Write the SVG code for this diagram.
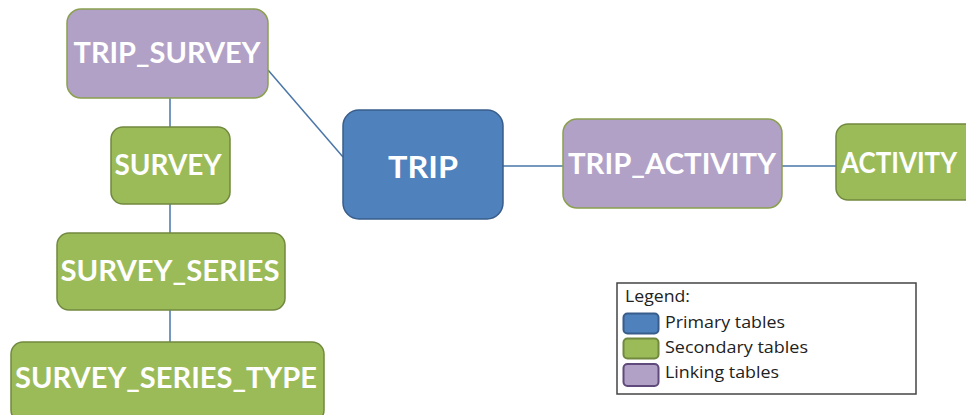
<svg xmlns="http://www.w3.org/2000/svg" width="966" height="415" viewBox="0 0 966 415">
<style>
.n text{font-family:Lato,"Liberation Sans",sans-serif;font-weight:bold;font-size:29px;fill:#fff;text-anchor:middle}
.g rect{fill:#9BBB59;stroke:#71893F;stroke-width:1.5}
.p rect{fill:#B2A1C7;stroke:#8AA04F;stroke-width:1.5}
.b rect{fill:#4F81BD;stroke:#385D8A;stroke-width:1.5}
#connectors line{stroke:#4A76A8;stroke-width:1.5}
.lg{font-family:"Open Sans","Liberation Sans",sans-serif;font-size:17px;fill:#222}
</style>
<rect width="966" height="415" fill="#fff"/>
<g id="connectors">
<line x1="268" y1="70" x2="343" y2="157"/>
<line x1="503" y1="166" x2="563" y2="166"/>
<line x1="782" y1="166" x2="836" y2="166"/>
<line x1="170" y1="98" x2="170" y2="127"/>
<line x1="170" y1="204" x2="170" y2="233"/>
<line x1="170" y1="310" x2="170" y2="342"/>
</g>
<g id="trip_survey" class="n p"><rect x="67" y="9" width="201" height="89" rx="14"/><text x="167" y="63" textLength="187" lengthAdjust="spacingAndGlyphs">TRIP_SURVEY</text></g>
<g id="survey" class="n g"><rect x="111" y="127" width="119" height="77" rx="12"/><text x="168" y="175" textLength="107" lengthAdjust="spacingAndGlyphs">SURVEY</text></g>
<g id="survey_series" class="n g"><rect x="57" y="233" width="228" height="77" rx="12"/><text x="170" y="281" textLength="219" lengthAdjust="spacingAndGlyphs">SURVEY_SERIES</text></g>
<g id="survey_series_type" class="n g"><rect x="11" y="342" width="313" height="80" rx="12"/><text x="166" y="388" textLength="302" lengthAdjust="spacingAndGlyphs">SURVEY_SERIES_TYPE</text></g>
<g id="trip" class="n b"><rect x="343" y="110" width="160" height="109" rx="16"/><text x="423" y="178" style="font-size:31px" textLength="70" lengthAdjust="spacingAndGlyphs">TRIP</text></g>
<g id="trip_activity" class="n p"><rect x="563" y="119" width="219" height="89" rx="14"/><text x="672" y="174" textLength="208" lengthAdjust="spacingAndGlyphs">TRIP_ACTIVITY</text></g>
<g id="activity" class="n g"><rect x="836" y="124" width="150" height="76" rx="12"/><text x="899" y="173" style="font-size:28px" textLength="116" lengthAdjust="spacingAndGlyphs">ACTIVITY</text></g>
<g id="legend">
<rect x="617" y="283" width="299" height="111" fill="#fff" stroke="#444" stroke-width="1.5"/>
<text class="lg" x="625" y="302" textLength="65" lengthAdjust="spacingAndGlyphs">Legend:</text>
<rect x="623.5" y="313.5" width="35" height="20" rx="4" fill="#4F81BD" stroke="#385D8A" stroke-width="2"/>
<rect x="623.5" y="338.5" width="35" height="20" rx="4" fill="#9BBB59" stroke="#71893F" stroke-width="2"/>
<rect x="623.5" y="364" width="35" height="22" rx="4" fill="#B2A1C7" stroke="#604A7B" stroke-width="2"/>
<text class="lg" x="665" y="328" textLength="120" lengthAdjust="spacingAndGlyphs">Primary tables</text>
<text class="lg" x="665" y="353" textLength="143" lengthAdjust="spacingAndGlyphs">Secondary tables</text>
<text class="lg" x="665" y="378" textLength="114" lengthAdjust="spacingAndGlyphs">Linking tables</text>
</g>
</svg>
